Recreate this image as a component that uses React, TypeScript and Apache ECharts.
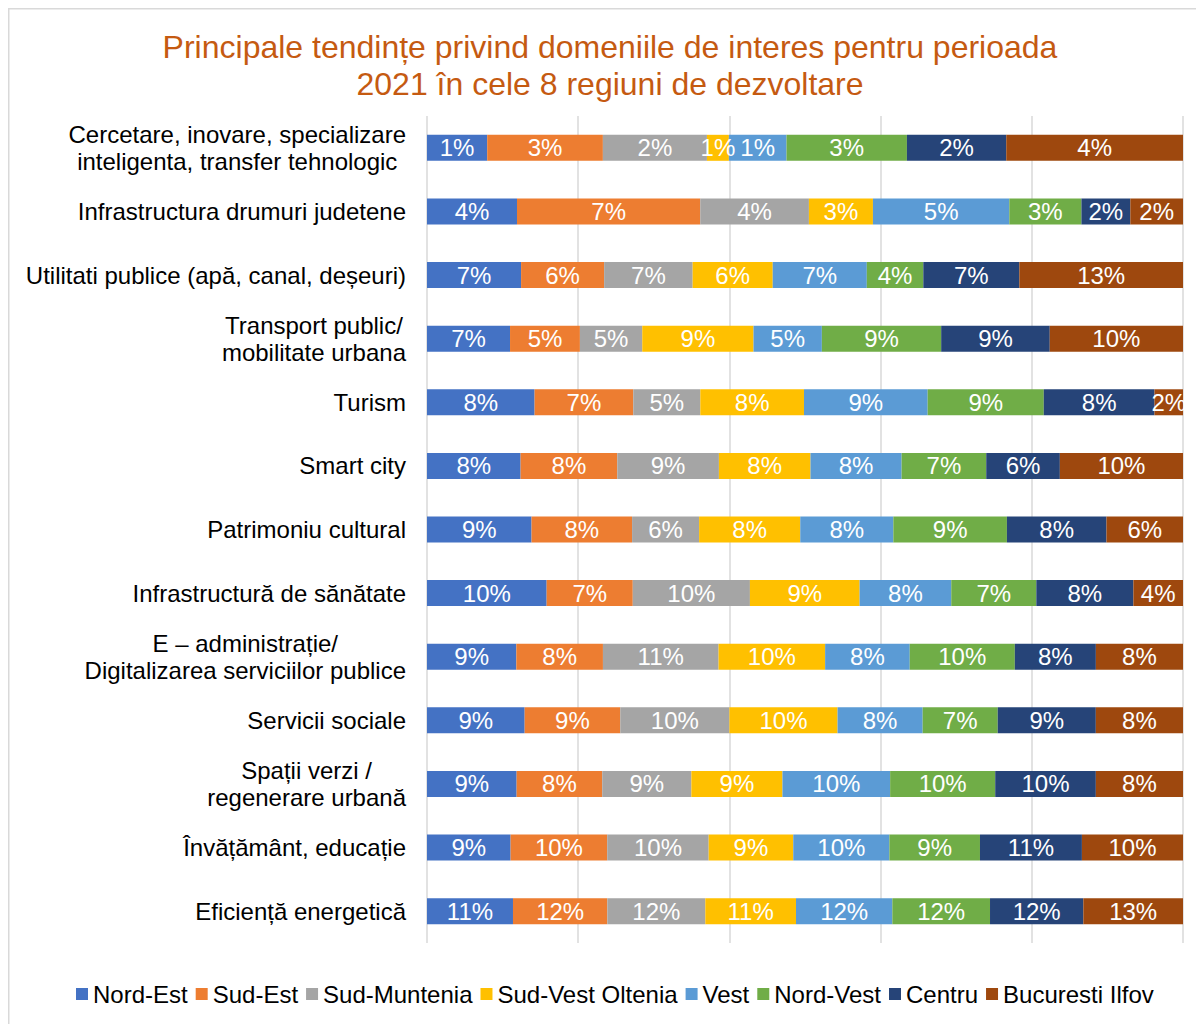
import React, { useEffect, useRef } from "react";
import * as echarts from "echarts";

const categories = [
  "Cercetare, inovare, specializare\ninteligenta, transfer tehnologic",
  "Infrastructura drumuri judetene",
  "Utilitati publice (apă, canal, deșeuri)",
  "Transport public/\nmobilitate urbana",
  "Turism",
  "Smart city",
  "Patrimoniu cultural",
  "Infrastructură de sănătate",
  "E – administrație/\nDigitalizarea serviciilor publice",
  "Servicii sociale",
  "Spații verzi /\nregenerare urbană",
  "Învățământ, educație",
  "Eficiență energetică",
];

const seriesNames = [
  "Nord-Est",
  "Sud-Est",
  "Sud-Muntenia",
  "Sud-Vest Oltenia",
  "Vest",
  "Nord-Vest",
  "Centru",
  "Bucuresti Ilfov",
];

const colors = ["#4472C4", "#ED7D31", "#A5A5A5", "#FFC000", "#5B9BD5", "#70AD47", "#264478", "#9E480E"];

// percentages per region
const nordEst = [1.4, 3.57, 7.26, 6.5, 7.96, 7.92, 8.58, 9.96, 8.5, 9.03, 8.65, 8.61, 10.8];
const sudEst = [2.69, 7.27, 6.41, 5.47, 7.3, 8.18, 8.25, 7.17, 8.24, 8.84, 8.26, 9.95, 11.85];
const sudMuntenia = [2.42, 4.31, 6.83, 4.88, 4.96, 8.6, 5.5, 9.75, 11.0, 10.09, 8.6, 10.45, 12.31];
const sudVestOltenia = [0.51, 2.54, 6.18, 8.71, 7.67, 7.75, 8.3, 9.13, 10.14, 10.0, 8.79, 8.71, 11.39];
const vest = [1.34, 5.41, 7.26, 5.35, 9.15, 7.71, 7.64, 7.63, 8.05, 7.87, 10.39, 9.9, 12.1];
const nordVest = [2.8, 2.86, 4.36, 9.34, 8.59, 7.16, 9.32, 7.08, 10.0, 6.94, 10.14, 9.33, 12.27];
const centru = [2.31, 1.94, 7.41, 8.5, 8.19, 6.23, 8.17, 8.08, 7.71, 9.07, 9.71, 10.5, 11.72];
const bucurestiIlfov = [4.11, 2.09, 12.63, 10.43, 2.11, 10.42, 6.28, 4.13, 8.29, 8.06, 8.41, 10.41, 12.52];

const allSeries = [nordEst, sudEst, sudMuntenia, sudVestOltenia, vest, nordVest, centru, bucurestiIlfov];

const FONT = "'Liberation Sans', Arial, sans-serif";

export default function App() {
  const ref = useRef<HTMLDivElement>(null);

  useEffect(() => {
    if (!ref.current) return;
    const chart = echarts.init(ref.current, undefined, { renderer: "svg" });

    const rowTotals = categories.map((_, r) => allSeries.reduce((s, arr) => s + arr[r], 0));

    const series = seriesNames.map((name, si) => ({
      name,
      type: "bar",
      stack: "total",
      barWidth: 26,
      itemStyle: { color: colors[si] },
      label: {
        show: true,
        position: "inside",
        color: "#ffffff",
        fontSize: 24,
        fontFamily: FONT,
        formatter: (p: any) => Math.round(allSeries[si][p.dataIndex]) + "%",
      },
      data: allSeries[si].map((v, r) => (v / rowTotals[r]) * 100),
    }));

    chart.setOption({
      animation: false,
      color: colors,
      title: {
        text: "Principale tendințe privind domeniile de interes pentru perioada\n2021 în cele 8 regiuni de dezvoltare",
        left: 602,
        top: 20,
        padding: 0,
        textAlign: "center",
        textStyle: {
          color: "#C55A11",
          fontSize: 32,
          fontWeight: "normal",
          fontFamily: FONT,
          lineHeight: 37,
        },
      },
      graphic: [
        {
          type: "rect",
          shape: { x: 0.75, y: 0.75, width: 1300, height: 1200 },
          style: { fill: "none", stroke: "#d9d9d9", lineWidth: 1.5 },
          silent: true,
        },
      ],
      legend: {
        data: seriesNames,
        left: 68,
        top: 974,
        padding: 0,
        icon: "rect",
        itemWidth: 12,
        itemHeight: 12,
        itemGap: 8,
        textStyle: { fontSize: 24, color: "#000", fontFamily: FONT },
      },
      grid: { left: 419, right: 21, top: 108, bottom: 81, containLabel: false },
      xAxis: {
        type: "value",
        min: 0,
        max: 100,
        interval: 20,
        axisLabel: { show: false },
        axisLine: { show: false },
        axisTick: { show: false },
        splitLine: { show: true, lineStyle: { color: "#d9d9d9", width: 1.5 } },
      },
      yAxis: {
        type: "category",
        inverse: true,
        data: categories,
        axisLine: { show: false },
        axisTick: { show: false },
        axisLabel: {
          interval: 0,
          margin: 21,
          color: "#000",
          fontSize: 24,
          fontFamily: FONT,
          lineHeight: 27,
          formatter: (v: string) =>
            v
              .split("\n")
              .map((l) => "{c|" + l + "}")
              .join("\n"),
          rich: {
            c: { align: "center", fontSize: 24, lineHeight: 27, color: "#000", fontFamily: FONT },
          },
        },
      },
      series,
    });

    return () => chart.dispose();
  }, []);

  return <div ref={ref} style={{ width: 1196, height: 1016 }} />;
}
